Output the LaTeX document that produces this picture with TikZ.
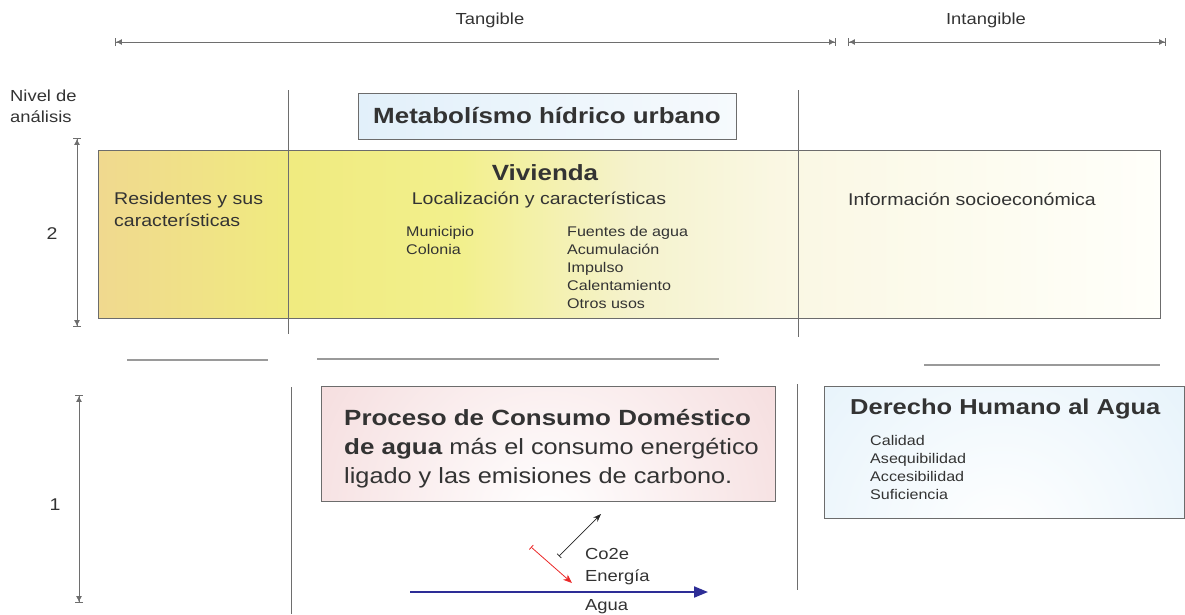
\documentclass[tikz,border=0pt]{standalone}
\usepackage{fontspec}
\setmainfont[FakeStretch=1.15, BoldFeatures={FakeStretch=1.18}]{Liberation Sans}
\usetikzlibrary{arrows.meta}
\definecolor{txt}{HTML}{333333}
\definecolor{sepline}{HTML}{6E6E6E}
\definecolor{hline}{HTML}{9A9A9A}
\definecolor{pinkE}{RGB}{238,196,198}
\definecolor{blueE}{RGB}{208,232,247}
\definecolor{metaL}{RGB}{226,240,250}
\definecolor{metaR}{RGB}{246,250,253}
\definecolor{aguaC}{RGB}{45,45,150}
\definecolor{redC}{RGB}{235,40,40}
\pgfdeclarehorizontalshading{yshade}{100bp}{rgb(0bp)=(0.94,0.85,0.56); rgb(25bp)=(0.94,0.85,0.56); rgb(34bp)=(0.94,0.92,0.50); rgb(42bp)=(0.95,0.94,0.55); rgb(50bp)=(0.96,0.95,0.80); rgb(57bp)=(0.98,0.97,0.89); rgb(75bp)=(1,1,0.98); rgb(100bp)=(1,1,0.98)}
\tikzset{
  dimarrow/.style={draw=sepline, line width=0.9pt, {Bar[width=8pt]Latex[length=6pt,width=6pt]}-{Latex[length=6pt,width=6pt]Bar[width=8pt]}},
  vsep/.style={draw=sepline, line width=1pt},
  hsep/.style={draw=hline, line width=1.2pt},
  lbl/.style={inner sep=0pt, text=txt},
  boxline/.style={draw=gray!85!black, line width=0.9pt},
}
\begin{document}
\begin{tikzpicture}[x=1pt,y=-1pt]
\useasboundingbox (0,0) rectangle (1185,614);
% top dimension arrows
\node[lbl, font=\fontsize{16}{19}\selectfont] (tang) at (490,20) {Tangible};
\node[lbl, font=\fontsize{16}{19}\selectfont] (intang) at (986,20) {Intangible};
\coordinate (tA) at (115,42); \coordinate (tB) at (836,42);
\coordinate (iA) at (848,42); \coordinate (iB) at (1166,42);
\draw[dimarrow] (tA) -- (tB);
\draw[dimarrow] (iA) -- (iB);
% level label
\node[lbl, anchor=north west, align=left, font=\fontsize{16}{21}\selectfont] (nivel) at (10,90) {Nivel de\\análisis};
% Metabolismo box
\node[boxline, left color=metaL, right color=metaR, minimum width=378pt, minimum height=46pt, inner sep=0pt, text=txt, font=\bfseries\fontsize{22}{26}\selectfont] (meta) at (547,116) {Metabolísmo hídrico urbano};
% yellow box
\node[boxline, shading=yshade, minimum width=1062pt, minimum height=168pt, inner sep=0pt] (viv) at (629,234) {};
% vertical separators upper
\coordinate (s1a) at (288,90); \coordinate (s1b) at (288,334);
\coordinate (s2a) at (798,90); \coordinate (s2b) at (798,337);
\draw[vsep] (s1a) -- (s1b);
\draw[vsep] (s2a) -- (s2b);
% level 2 arrow
\node[lbl, font=\fontsize{17}{20}\selectfont] (two) at (52,234) {2};
\coordinate (v2a) at (77,138); \coordinate (v2b) at (77,327);
\draw[dimarrow] (v2a) -- (v2b);
% yellow box texts
\node[lbl, anchor=north west, align=left, font=\fontsize{17}{22}\selectfont] (resid) at (114,192) {Residentes y sus\\características};
\node[lbl, font=\bfseries\fontsize{22}{26}\selectfont] (vivt) at (545,173) {Vivienda};
\node[lbl, font=\fontsize{17}{20}\selectfont] (loc) at (539,200) {Localización y características};
\node[lbl, anchor=north west, align=left, font=\fontsize{14}{18}\selectfont] (muni) at (406,226) {Municipio\\Colonia};
\node[lbl, anchor=north west, align=left, font=\fontsize{14}{18}\selectfont] (fuent) at (567,226) {Fuentes de agua\\Acumulación\\Impulso\\Calentamiento\\Otros usos};
\node[lbl, font=\fontsize{17}{20}\selectfont] (info) at (972,199) {Información socioeconómica};
% horizontal separators
\coordinate (h1a) at (127,360); \coordinate (h1b) at (268,360);
\coordinate (h2a) at (317,359); \coordinate (h2b) at (719,359);
\coordinate (h3a) at (924,365); \coordinate (h3b) at (1160,365);
\draw[hsep] (h1a) -- (h1b);
\draw[hsep] (h2a) -- (h2b);
\draw[hsep] (h3a) -- (h3b);
% vertical separators lower
\coordinate (s3a) at (291,387); \coordinate (s3b) at (291,614);
\coordinate (s4a) at (797,384); \coordinate (s4b) at (797,590);
\draw[vsep] (s3a) -- (s3b);
\draw[vsep] (s4a) -- (s4b);
% level 1 arrow
\node[lbl, font=\fontsize{17}{20}\selectfont] (one) at (55,505) {1};
\coordinate (v1a) at (79,395); \coordinate (v1b) at (79,603);
\draw[dimarrow] (v1a) -- (v1b);
% pink box
\begin{scope}
\clip (321,386) rectangle (775,501);
\fill[pinkE] (321,386) rectangle (775,501);
\shade[inner color=white, outer color=pinkE] (548,515) circle (470pt);
\end{scope}
\node[boxline, minimum width=454pt, minimum height=115pt, inner sep=0pt] (proc) at (548,443.5) {};
\node[lbl, anchor=north west, align=left, font=\fontsize{22}{29}\selectfont] (proct) at (344,409) {\textbf{Proceso de Consumo Doméstico}\\\textbf{de agua} más el consumo energético\\ligado y las emisiones de carbono.};
% blue box
\begin{scope}
\clip (824,386) rectangle (1184,518);
\fill[blueE] (824,386) rectangle (1184,518);
\shade[inner color=white, outer color=blueE] (1000,540) circle (480pt);
\end{scope}
\node[boxline, minimum width=360pt, minimum height=132pt, inner sep=0pt] (dha) at (1004,452) {};
\node[lbl, anchor=west, font=\bfseries\fontsize{21.6}{25}\selectfont] (dhat) at (850,409) {Derecho Humano al Agua};
\node[lbl, anchor=north west, align=left, font=\fontsize{14}{18}\selectfont] (dhai) at (870,435) {Calidad\\Asequibilidad\\Accesibilidad\\Suficiencia};
% flows
\coordinate (c1) at (559,556); \coordinate (c2) at (601,514);
\draw[line width=0.7pt, draw=black!85, {Bar[width=6pt]}-{Stealth[length=8pt,width=6pt]}] (c1) -- (c2);
\coordinate (e1) at (531,547); \coordinate (e2) at (572,583);
\draw[line width=0.8pt, draw=redC, {Bar[width=6pt]}-{Stealth[length=9pt,width=7pt]}] (e1) -- (e2);
\coordinate (w1) at (410,592); \coordinate (w2) at (708,592);
\draw[line width=2pt, draw=aguaC, -{Triangle[length=14pt,width=11pt]}] (w1) -- (w2);
\node[lbl, anchor=west, font=\fontsize{16}{19}\selectfont] (co2) at (585,554) {Co2e};
\node[lbl, anchor=west, font=\fontsize{16}{19}\selectfont] (ener) at (585,577) {Energía};
\node[lbl, anchor=west, font=\fontsize{16}{19}\selectfont] (agua) at (585,607) {Agua};
\end{tikzpicture}
\end{document}
